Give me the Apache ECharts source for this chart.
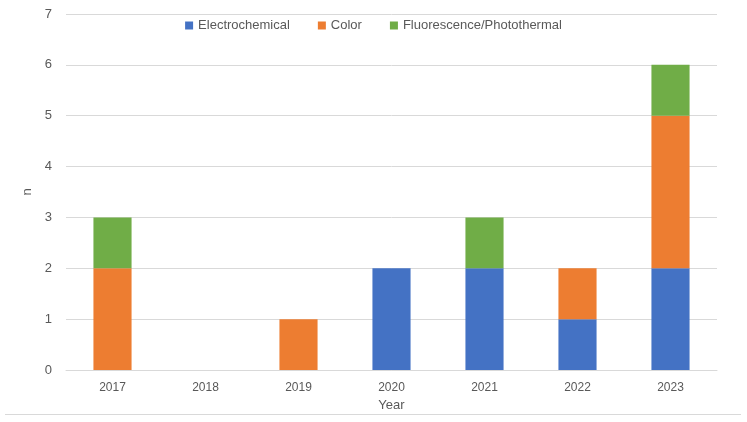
<!DOCTYPE html>
<html><head><meta charset="utf-8">
<script src="https://cdn.jsdelivr.net/npm/echarts@6/dist/echarts.min.js"></script>
<style>html,body{margin:0;padding:0;background:#fff}#c{width:747px;height:422px}</style>
</head><body><div id="c"></div>
<script>
const years = ['2017','2018','2019','2020','2021','2022','2023'];
const electrochemical = [0,0,0,2,2,1,2];
const color = [2,0,1,0,0,1,3];
const fluorescence = [1,0,0,0,1,0,1];
const yTicks = [0,1,2,3,4,5,6,7];
const chart = echarts.init(document.getElementById('c'));
const font = 'Liberation Sans';
chart.setOption({
  animation:false,
  textStyle:{fontFamily:font},
  legend:{top:14,left:'center',itemWidth:8,itemHeight:8,itemGap:28,icon:'rect',
    textStyle:{color:'#595959',fontSize:13,fontFamily:font},
    data:['Electrochemical','Color','Fluorescence/Photothermal']},
  grid:{left:66,right:30,top:14,bottom:52},
  xAxis:{type:'category',data:years,name:'Year',nameLocation:'middle',nameGap:25,
    nameTextStyle:{color:'#595959',fontSize:13,fontFamily:font},
    axisLine:{lineStyle:{color:'#d9d9d9'}},axisTick:{show:false},
    axisLabel:{color:'#595959',fontSize:12,margin:12}},
  yAxis:{type:'value',min:0,max:7,interval:1,name:'n',nameLocation:'middle',nameGap:30,
    nameTextStyle:{color:'#595959',fontSize:13,fontFamily:font},
    axisLine:{show:false},axisTick:{show:false},
    axisLabel:{color:'#595959',fontSize:13,margin:14,formatter:v=>yTicks.includes(v)?String(v):''},
    splitLine:{lineStyle:{color:'#d9d9d9'}}},
  series:[
    {name:'Electrochemical',type:'bar',stack:'a',data:electrochemical,barWidth:'41%',itemStyle:{color:'#4472C4'}},
    {name:'Color',type:'bar',stack:'a',data:color,itemStyle:{color:'#ED7D31'}},
    {name:'Fluorescence/Photothermal',type:'bar',stack:'a',data:fluorescence,itemStyle:{color:'#70AD47'}}
  ],
  graphic:[{type:'line',shape:{x1:5,y1:414.5,x2:741,y2:414.5},style:{stroke:'#d9d9d9',lineWidth:1}}]
});
</script></body></html>
